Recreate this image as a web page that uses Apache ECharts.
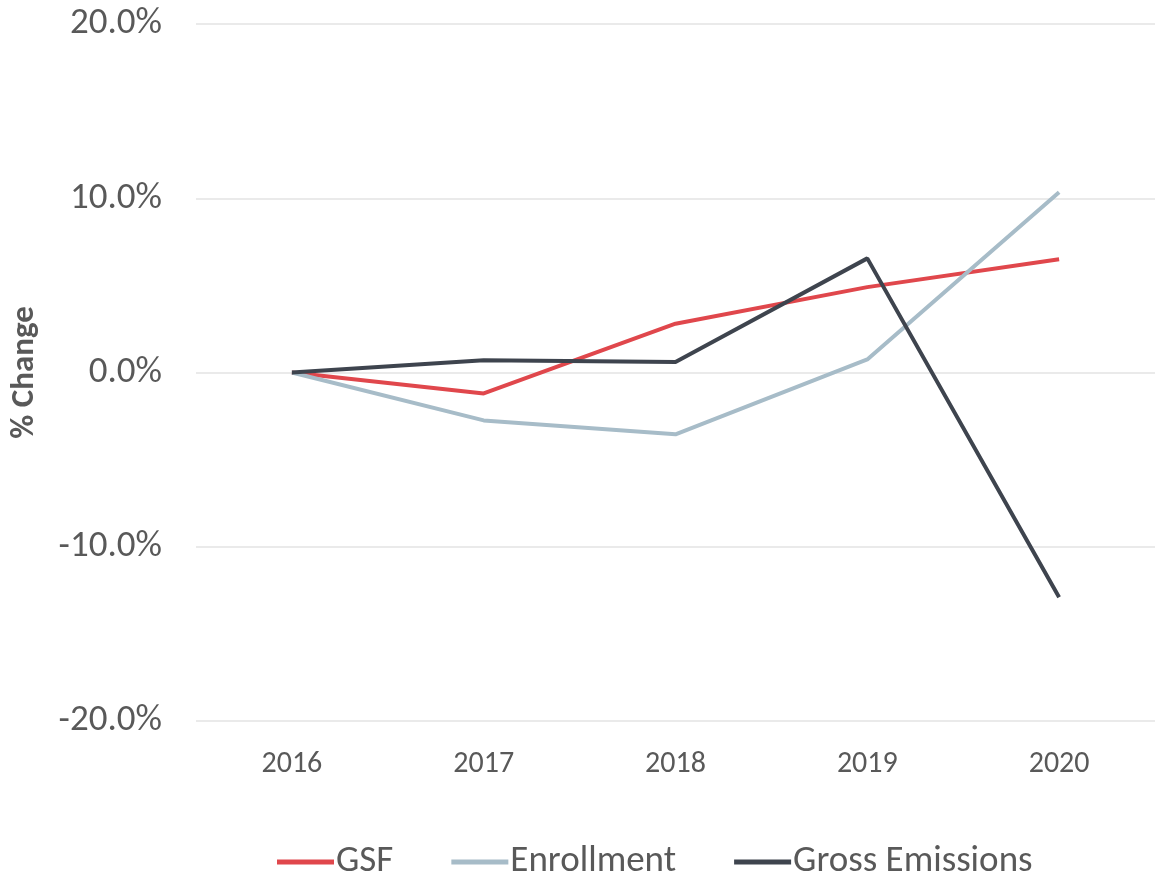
<!DOCTYPE html>
<html>
<head>
<meta charset="utf-8">
<script src="https://cdn.jsdelivr.net/npm/echarts@6/dist/echarts.min.js"></script>
<style>
  html, body { margin: 0; padding: 0; background: #fff; }
  #chart { width: 1155px; height: 873px; }
</style>
</head>
<body>
<div id="chart"></div>
<script>
// values are % change vs 2016
const years = ["2016", "2017", "2018", "2019", "2020"];
const gsf = [0, -1.2, 2.8, 4.9, 6.5];
const enrollment = [0, -2.75, -3.55, 0.75, 10.35];
const grossEmissions = [0, 0.7, 0.6, 6.55, -12.9];

const font = "Carlito, Lato, sans-serif";

const chart = echarts.init(document.getElementById("chart"));

function lineSeries(name, data, color) {
  return {
    name: name,
    type: "line",
    data: data,
    symbol: "none",
    lineStyle: { color: color, width: 4 },
    itemStyle: { color: color },
    animation: false
  };
}

chart.setOption({
  textStyle: { fontFamily: font },
  grid: { left: 193, right: 0, top: 24, bottom: 152 },
  xAxis: {
    type: "category",
    data: years,
    boundaryGap: true,
    axisLine: { show: false },
    axisTick: { show: false },
    axisLabel: { color: "#595959", fontSize: 30, margin: 28, fontFamily: font }
  },
  yAxis: {
    type: "value",
    min: -20,
    max: 20,
    interval: 10,
    name: "% Change",
    nameLocation: "middle",
    nameGap: 155,
    nameTextStyle: { color: "#595959", fontSize: 33, fontWeight: "bold", fontFamily: font },
    axisLabel: {
      color: "#595959",
      fontSize: 37,
      margin: 34,
      fontFamily: font,
      formatter: v => v.toFixed(1) + "%"
    },
    splitLine: { lineStyle: { color: "#e3e3e3", width: 1.5 } }
  },
  legend: {
    top: 838,
    left: 272,
    icon: "rect",
    itemWidth: 57,
    itemHeight: 5,
    itemGap: 58,
    textStyle: { color: "#595959", fontSize: 37, lineHeight: 38, fontFamily: font, padding: [0, 0, 0, -3] },
    data: ["GSF", "Enrollment", "Gross Emissions"]
  },
  series: [
    lineSeries("GSF", gsf, "#e0474c"),
    lineSeries("Enrollment", enrollment, "#a7bcc8"),
    lineSeries("Gross Emissions", grossEmissions, "#3e444e")
  ]
});
</script>
</body>
</html>
